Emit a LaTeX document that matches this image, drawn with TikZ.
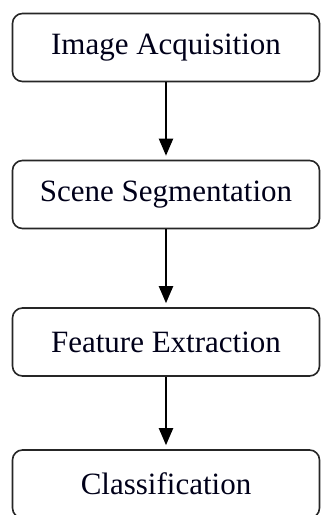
\documentclass[tikz,border=0pt]{standalone}
\usepackage{fontspec}
\setmainfont{Liberation Serif}
\usetikzlibrary{arrows.meta}
\begin{document}
\begin{tikzpicture}[x=1pt,y=-1pt,
  stepbox/.style={draw=black!85,line width=1.6pt,rounded corners=10pt,
    minimum width=307pt,minimum height=68pt,inner sep=0pt,
    font=\fontsize{31}{36}\selectfont,text=black!90!blue},
  flow/.style={line width=2pt,-{Triangle[length=17pt,width=14pt]},shorten >=4pt}]
\useasboundingbox (0,0) rectangle (321,515);
\node[stepbox] (a) at (166,47.5) {Image Acquisition};
\node[stepbox] (b) at (166,194.5) {Scene Segmentation};
\node[stepbox] (c) at (166,342) {Feature Extraction};
\node[stepbox] (d) at (166,484) {Classification};
\draw[flow] (a) -- (b);
\draw[flow] (b) -- (c);
\draw[flow] (c) -- (d);
\end{tikzpicture}
\end{document}
